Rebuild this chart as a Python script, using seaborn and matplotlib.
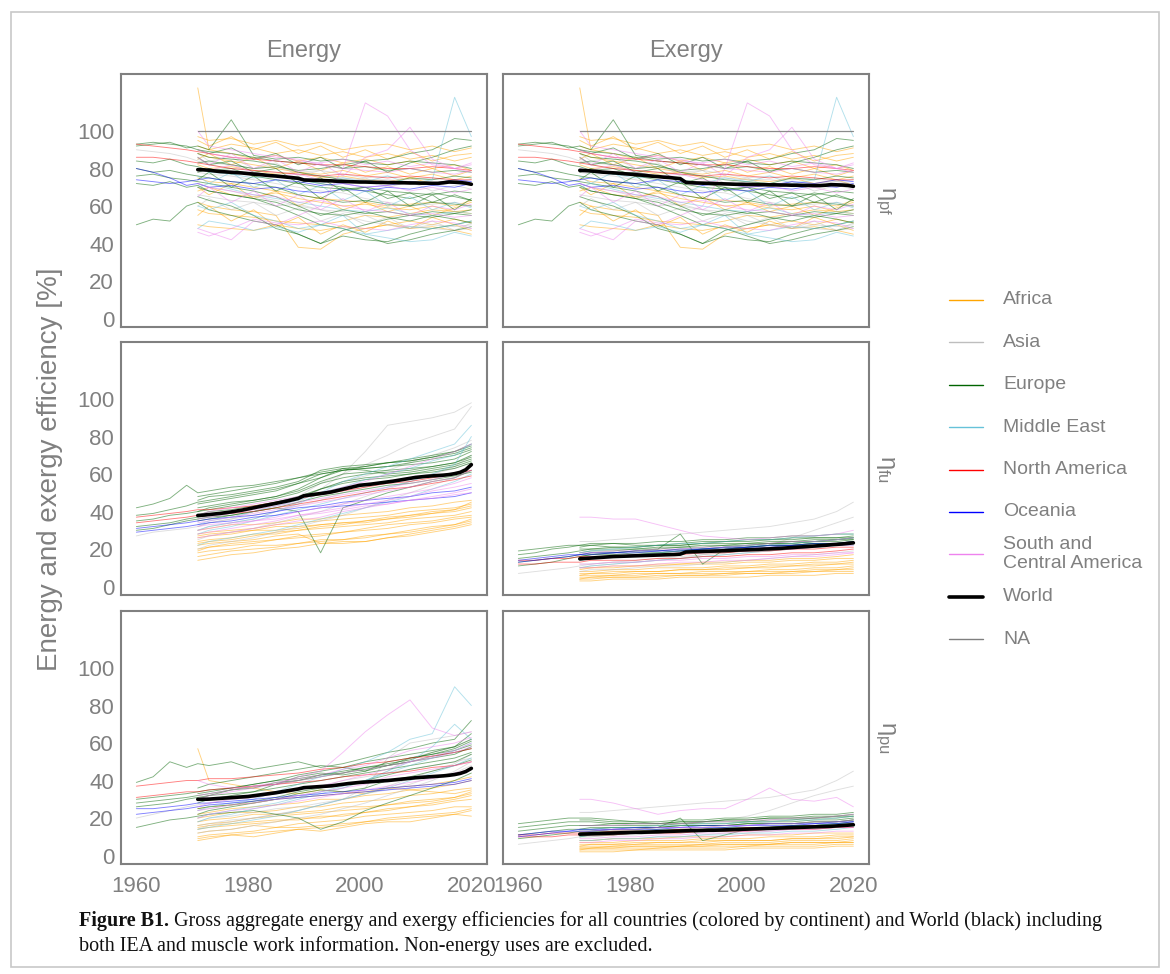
import matplotlib
matplotlib.use("Agg")
import matplotlib.pyplot as plt
from matplotlib.lines import Line2D
from matplotlib.patches import Rectangle
import pandas as pd
import seaborn as sns

# ---------------------------------------------------------------- years
YEARS_EARLY = [1960, 1963, 1966, 1969]
YEARS_MAIN = [1971, 1973, 1977, 1981, 1985, 1989, 1993, 1997, 2001, 2005, 2009, 2013, 2017, 2020]
YEARS_LONG = YEARS_EARLY + YEARS_MAIN
YEARS_WORLD = list(range(1971, 2021))

CONTINENTS = ["Africa", "Asia", "Europe", "Middle East", "North America",
              "Oceania", "South and\nCentral America", "World", "NA"]

# ------------------------------------------- primary-to-final (both columns)
PF_AFRICA = [
    [123, 90, 88, 85, 87, 84, 86, 83, 85, 82, 84, 80, 82, 79],
    [97, 95, 96, 93, 95, 92, 94, 90, 92, 93, 90, 92, 89, 91],
    [88, 86, 84, 82, 80, 78, 77, 79, 76, 78, 75, 77, 74, 76],
    [75, 73, 72, 70, 68, 66, 64, 63, 62, 60, 61, 62, 60, 63],
    [62, 60, 58, 57, 55, 38, 37, 45, 48, 50, 52, 50, 53, 51],
    [50, 49, 48, 47, 50, 48, 47, 49, 48, 50, 48, 49, 47, 45],
    [68, 70, 66, 65, 67, 64, 62, 60, 61, 59, 58, 60, 57, 58],
    [82, 80, 81, 79, 77, 78, 75, 76, 74, 73, 75, 72, 74, 71],
    [58, 56, 55, 54, 52, 51, 50, 52, 55, 54, 56, 58, 57, 56],
    [92, 90, 93, 91, 88, 90, 87, 89, 86, 88, 85, 87, 84, 86],
    [85, 88, 82, 86, 80, 84, 79, 83, 78, 81, 77, 80, 76, 79],
    [70, 66, 72, 64, 68, 60, 65, 58, 62, 57, 60, 55, 59, 62],
    [55, 60, 52, 58, 49, 54, 45, 50, 46, 52, 48, 54, 50, 47],
    [95, 92, 97, 90, 94, 88, 92, 86, 90, 85, 89, 84, 87, 88],
]
PF_ASIA = [
    [90, 89, 88, 86, 84, 82, 80, 79, 78, 77, 76, 75, 74, 74, 73, 72, 73, 72],
    [72, 70, 68, 65, 63, 60, 58, 55, 52, 50, 49, 48, 47, 48],
    [85, 83, 82, 80, 81, 78, 79, 77, 75, 76, 74, 75, 73, 74],
    [66, 65, 63, 62, 60, 61, 58, 57, 55, 50, 48, 50, 49, 50],
    [78, 77, 76, 74, 72, 70, 68, 67, 64, 62, 60, 61, 62, 60],
    [88, 84, 86, 80, 83, 76, 79, 72, 75, 70, 73, 68, 71, 69],
    [60, 64, 58, 62, 55, 59, 52, 56, 50, 54, 48, 52, 47, 51],
]
PF_EUROPE = [
    [93, 94, 93, 92, 90, 89, 88, 86, 84, 83, 82, 80, 81, 79, 80, 78, 79, 78],
    [92, 93, 94, 91, 92, 90, 106, 87, 85, 86, 84, 85, 83, 82, 84, 83, 82, 80],
    [84, 83, 85, 82, 81, 79, 80, 76, 74, 72, 70, 69, 70, 68, 67, 66, 68, 67],
    [80, 78, 79, 77, 76, 75, 73, 72, 70, 66, 64, 62, 63, 61, 60, 62, 61, 60],
    [76, 77, 75, 74, 73, 72, 70, 68, 65, 60, 55, 58, 56, 57, 55, 54, 56, 55],
    [50, 53, 52, 60, 62, 58, 55, 52, 50, 45, 40, 44, 42, 41, 45, 48, 50, 52],
    [72, 71, 73, 70, 71, 68, 66, 64, 62, 58, 56, 55, 57, 54, 52, 55, 53, 51],
    [88, 86, 85, 84, 82, 78, 76, 74, 73, 72, 75, 74, 76, 75],
    [65, 63, 60, 55, 48, 45, 40, 47, 50, 53, 55, 57, 56, 58],
    [78, 80, 77, 78, 76, 74, 72, 70, 68, 66, 64, 67, 65, 63],
    [83, 84, 82, 80, 81, 79, 80, 82, 84, 85, 88, 90, 96, 95],
    [70, 68, 66, 64, 60, 55, 50, 48, 44, 40, 42, 45, 47, 49],
    [86, 82, 84, 78, 80, 72, 75, 68, 70, 64, 67, 62, 66, 63],
    [74, 78, 70, 76, 68, 73, 64, 70, 62, 68, 60, 66, 58, 64],
    [90, 88, 91, 85, 88, 82, 86, 80, 84, 78, 83, 86, 90, 92],
]
PF_MIDDLE_EAST = [
    [60, 58, 62, 55, 52, 48, 50, 55, 45, 43, 41, 42, 46, 44],
    [80, 78, 77, 75, 76, 74, 72, 75, 73, 76, 72, 74, 118, 97],
    [70, 72, 69, 66, 64, 62, 60, 58, 57, 59, 56, 55, 57, 56],
    [48, 52, 50, 47, 49, 46, 50, 48, 45, 47, 49, 48, 50, 52],
    [76, 72, 78, 70, 74, 66, 71, 63, 68, 60, 65, 58, 62, 59],
]
PF_NORTH_AMERICA = [
    [93, 92, 91, 90, 89, 88, 86, 85, 84, 83, 82, 82, 81, 80, 80, 81, 80, 79],
    [86, 86, 85, 84, 83, 82, 80, 79, 78, 77, 76, 77, 76, 75, 76, 75, 74, 74],
]
PF_OCEANIA = [
    [80, 78, 75, 71, 72, 70, 71, 69, 70, 68, 67, 69, 68, 70, 69, 71, 70, 72],
    [74, 73, 72, 73, 74, 75, 73, 72, 74, 73, 71, 72, 70, 71, 73, 72, 74, 73],
]
PF_SC_AMERICA = [
    [48, 46, 42, 52, 50, 55, 60, 80, 115, 108, 90, 82, 80, 78],
    [90, 88, 86, 85, 87, 84, 83, 85, 82, 84, 81, 83, 80, 82],
    [100, 92, 90, 88, 86, 85, 82, 80, 79, 78, 80, 78, 77, 79],
    [72, 70, 68, 66, 65, 62, 63, 60, 58, 57, 55, 56, 54, 55],
    [80, 79, 82, 78, 76, 77, 74, 72, 70, 71, 68, 70, 67, 69],
    [46, 44, 48, 53, 51, 50, 52, 49, 48, 47, 50, 52, 51, 48],
    [86, 82, 88, 80, 85, 78, 83, 76, 86, 90, 102, 85, 80, 83],
    [65, 70, 62, 68, 60, 66, 58, 64, 57, 62, 55, 60, 58, 61],
]
PF_NA = [
    [100, 100, 100, 100, 100, 100, 100, 100, 100, 100, 100, 100, 100, 100],
]

# ------------------------------------------------ final-to-useful, energy
FU_EN_AFRICA = [
    [14, 15, 17, 18, 20, 21, 23, 24, 24, 26, 28, 30, 32, 34],
    [20, 21, 23, 24, 25, 27, 28, 29, 31, 33, 34, 35, 37, 38],
    [24, 25, 26, 28, 28, 30, 31, 32, 33, 34, 36, 37, 38, 40],
    [27, 28, 29, 30, 32, 32, 33, 34, 34, 36, 37, 39, 40, 42],
    [18, 19, 20, 22, 22, 23, 25, 25, 27, 28, 30, 32, 33, 35],
    [30, 31, 33, 33, 34, 36, 36, 38, 39, 40, 42, 43, 45, 46],
    [22, 23, 24, 25, 27, 28, 23, 23, 24, 26, 27, 29, 31, 33],
    [26, 27, 28, 30, 30, 31, 33, 34, 35, 37, 38, 39, 41, 43],
    [16, 17, 19, 20, 21, 23, 24, 25, 26, 28, 29, 31, 33, 36],
    [28, 29, 30, 31, 33, 34, 35, 36, 37, 38, 40, 41, 42, 44],
    [19, 21, 22, 23, 25, 26, 27, 29, 30, 31, 33, 34, 36, 37],
    [23, 24, 25, 27, 29, 30, 32, 33, 35, 36, 38, 40, 41, 45],
]
FU_EN_ASIA = [
    [27, 29, 30, 31, 32, 34, 36, 38, 40, 43, 46, 50, 53, 56, 58, 60, 63, 66],
    [32, 34, 36, 40, 44, 48, 55, 60, 72, 86, 88, 90, 93, 98],
    [30, 32, 34, 36, 40, 45, 52, 60, 65, 70, 76, 80, 84, 96],
    [20, 22, 24, 26, 29, 32, 35, 38, 42, 46, 50, 54, 58, 62],
    [36, 38, 40, 42, 45, 48, 52, 56, 59, 62, 66, 70, 74, 78],
    [25, 27, 29, 31, 34, 37, 40, 44, 48, 52, 56, 60, 64, 70],
]
FU_EN_EUROPE = [
    [42, 44, 47, 54, 50, 51, 53, 54, 56, 58, 60, 62, 64, 66, 67, 69, 71, 74],
    [38, 39, 41, 43, 45, 46, 48, 50, 52, 55, 58, 62, 63, 64, 65, 66, 68, 72],
    [35, 36, 38, 39, 40, 42, 44, 46, 48, 51, 56, 60, 61, 62, 63, 64, 66, 70],
    [32, 33, 34, 36, 37, 38, 40, 42, 44, 47, 52, 56, 58, 59, 60, 62, 64, 67],
    [30, 31, 33, 35, 36, 37, 38, 40, 42, 40, 18, 42, 46, 50, 53, 56, 58, 62],
    [44, 45, 47, 49, 51, 55, 60, 62, 63, 64, 66, 68, 70, 73],
    [40, 41, 43, 45, 47, 50, 55, 58, 60, 61, 62, 64, 66, 69],
    [38, 40, 41, 43, 45, 48, 52, 55, 57, 58, 60, 61, 63, 66],
    [35, 36, 38, 40, 42, 45, 48, 50, 52, 54, 55, 57, 59, 61],
    [42, 43, 45, 46, 48, 52, 58, 63, 62, 60, 61, 63, 65, 68],
    [46, 48, 49, 51, 53, 56, 62, 64, 65, 66, 67, 69, 72, 75],
    [48, 49, 51, 53, 55, 58, 61, 63, 64, 66, 68, 70, 72, 76],
]
FU_EN_MIDDLE_EAST = [
    [30, 32, 34, 36, 40, 44, 50, 56, 60, 64, 68, 72, 76, 86],
    [28, 30, 32, 35, 38, 41, 44, 47, 50, 53, 56, 60, 65, 80],
    [22, 24, 26, 28, 30, 33, 36, 39, 42, 45, 48, 52, 56, 60],
    [33, 35, 37, 40, 43, 46, 50, 53, 57, 60, 63, 67, 70, 76],
]
FU_EN_NORTH_AMERICA = [
    [37, 38, 39, 40, 41, 41, 42, 43, 45, 47, 49, 51, 53, 55, 56, 58, 60, 62],
    [34, 35, 36, 37, 38, 38, 39, 40, 42, 44, 46, 48, 50, 52, 53, 55, 57, 59],
]
FU_EN_OCEANIA = [
    [31, 32, 33, 34, 35, 36, 37, 38, 40, 42, 43, 45, 46, 47, 48, 50, 51, 53],
    [29, 30, 31, 32, 33, 34, 35, 37, 38, 40, 42, 43, 44, 45, 46, 47, 48, 50],
]
FU_EN_SC_AMERICA = [
    [30, 31, 33, 35, 37, 40, 42, 44, 46, 48, 50, 52, 55, 58],
    [34, 35, 37, 39, 41, 43, 45, 47, 49, 51, 53, 56, 58, 62],
    [26, 27, 29, 31, 33, 35, 37, 40, 42, 44, 46, 48, 50, 52],
    [38, 40, 42, 44, 46, 48, 50, 53, 56, 60, 64, 68, 72, 76],
    [32, 33, 34, 35, 36, 38, 39, 41, 43, 44, 46, 47, 49, 50],
    [36, 37, 39, 41, 43, 45, 47, 49, 51, 53, 55, 57, 60, 64],
    [28, 29, 31, 33, 35, 38, 40, 42, 44, 46, 48, 51, 53, 55],
]

# ---------------------------------------------- primary-to-useful, energy
PU_EN_AFRICA = [
    [57, 40, 38, 36, 34, 33, 35, 34, 33, 36, 35, 34, 33, 35],
    [8, 9, 11, 10, 12, 14, 13, 15, 17, 18, 18, 20, 22, 21],
    [12, 13, 14, 16, 15, 17, 18, 19, 21, 22, 23, 24, 26, 26],
    [15, 16, 17, 18, 19, 19, 21, 21, 23, 24, 26, 27, 29, 30],
    [18, 19, 20, 22, 22, 23, 24, 26, 26, 27, 29, 30, 31, 33],
    [20, 21, 23, 23, 24, 26, 26, 28, 29, 30, 32, 33, 35, 36],
    [10, 11, 12, 13, 15, 15, 16, 17, 18, 20, 21, 22, 23, 25],
    [22, 23, 25, 26, 27, 28, 30, 30, 32, 33, 35, 36, 38, 40],
    [14, 15, 16, 17, 18, 20, 20, 22, 23, 25, 26, 28, 30, 32],
    [25, 26, 27, 28, 30, 31, 32, 33, 34, 36, 37, 38, 40, 42],
    [9, 10, 11, 12, 13, 14, 15, 16, 18, 19, 20, 21, 22, 24],
    [16, 17, 18, 20, 21, 22, 23, 24, 25, 27, 28, 29, 31, 34],
]
PU_EN_ASIA = [
    [20, 22, 24, 26, 27, 28, 30, 31, 33, 35, 37, 40, 42, 44, 46, 48, 50, 52],
    [16, 17, 19, 20, 22, 24, 27, 30, 36, 52, 60, 62, 64, 66],
    [12, 13, 14, 16, 18, 20, 22, 25, 28, 32, 36, 40, 45, 50],
    [24, 25, 27, 28, 30, 32, 34, 36, 40, 45, 52, 55, 58, 62],
    [18, 20, 21, 23, 25, 26, 28, 30, 33, 35, 38, 42, 44, 48],
    [14, 16, 18, 20, 22, 24, 27, 30, 33, 37, 41, 45, 49, 54],
]
PU_EN_EUROPE = [
    [39, 42, 50, 47, 49, 48, 50, 46, 48, 50, 47, 49, 52, 55, 57, 60, 62, 72],
    [30, 31, 32, 33, 34, 35, 36, 38, 40, 43, 45, 47, 50, 52, 54, 56, 58, 62],
    [28, 29, 30, 31, 32, 33, 35, 37, 38, 40, 42, 44, 46, 48, 50, 52, 54, 58],
    [26, 27, 28, 30, 31, 32, 33, 34, 36, 38, 40, 42, 44, 46, 48, 50, 52, 55],
    [15, 17, 19, 20, 21, 22, 23, 24, 22, 20, 14, 18, 24, 28, 32, 36, 40, 44],
    [36, 38, 40, 42, 44, 46, 48, 47, 45, 50, 52, 54, 56, 59],
    [28, 30, 32, 34, 38, 42, 44, 43, 45, 48, 50, 53, 55, 57],
    [22, 24, 26, 28, 30, 33, 35, 34, 36, 40, 42, 45, 48, 51],
    [33, 34, 36, 38, 40, 41, 43, 45, 47, 49, 51, 55, 58, 65],
    [25, 26, 27, 29, 31, 34, 36, 38, 40, 43, 46, 48, 50, 54],
    [30, 32, 35, 36, 39, 40, 43, 44, 47, 48, 52, 54, 57, 61],
]
PU_EN_MIDDLE_EAST = [
    [24, 26, 28, 30, 34, 38, 42, 46, 50, 55, 62, 65, 90, 80],
    [20, 22, 24, 26, 28, 31, 34, 37, 40, 45, 50, 58, 70, 62],
    [14, 15, 17, 19, 21, 24, 27, 30, 33, 36, 40, 44, 48, 52],
    [18, 20, 22, 25, 27, 30, 33, 36, 40, 44, 48, 52, 56, 60],
]
PU_EN_NORTH_AMERICA = [
    [37, 38, 39, 40, 40, 41, 41, 42, 43, 44, 46, 47, 49, 50, 52, 53, 55, 57],
    [31, 32, 33, 34, 34, 35, 36, 37, 38, 39, 40, 42, 43, 44, 45, 47, 48, 50],
]
PU_EN_OCEANIA = [
    [22, 23, 24, 25, 26, 27, 28, 29, 30, 31, 32, 33, 34, 35, 36, 37, 38, 40],
    [25, 25, 26, 27, 28, 28, 29, 30, 31, 32, 33, 34, 35, 36, 37, 38, 39, 41],
]
PU_EN_SC_AMERICA = [
    [30, 32, 34, 36, 38, 42, 45, 55, 66, 75, 83, 68, 64, 66],
    [26, 28, 30, 31, 33, 35, 37, 40, 43, 46, 50, 52, 55, 58],
    [40, 38, 36, 37, 38, 40, 42, 44, 46, 48, 50, 53, 56, 60],
    [20, 22, 24, 25, 27, 29, 31, 33, 35, 37, 39, 41, 44, 46],
    [24, 25, 27, 28, 30, 32, 34, 36, 38, 42, 44, 46, 48, 50],
    [32, 33, 35, 37, 39, 41, 43, 46, 48, 52, 56, 58, 60, 63],
]

# ------------------------------------------------ final-to-useful, exergy
FU_EX_AFRICA = [
    [3, 3, 4, 4, 4, 5, 5, 5, 5, 6, 6, 6, 7, 7],
    [4, 4, 5, 5, 5, 6, 6, 6, 7, 7, 7, 8, 8, 8],
    [5, 5, 6, 6, 7, 7, 7, 7, 8, 8, 8, 9, 9, 10],
    [6, 6, 6, 7, 7, 7, 8, 8, 8, 9, 9, 10, 10, 11],
    [7, 7, 8, 8, 8, 9, 9, 9, 10, 10, 11, 11, 12, 12],
    [8, 8, 9, 9, 10, 10, 10, 11, 11, 12, 12, 13, 13, 14],
    [9, 10, 10, 11, 11, 12, 12, 12, 13, 13, 14, 14, 15, 15],
    [4, 5, 5, 5, 6, 6, 6, 7, 7, 7, 8, 8, 9, 9],
    [10, 10, 11, 11, 12, 12, 13, 13, 14, 14, 15, 15, 16, 17],
    [6, 7, 7, 8, 8, 9, 9, 10, 10, 11, 11, 12, 12, 13],
]
FU_EX_ASIA = [
    [7, 8, 9, 10, 11, 12, 13, 14, 15, 16, 17, 18, 19, 20, 21, 22, 23, 24],
    [24, 24, 25, 26, 27, 28, 29, 30, 31, 32, 34, 36, 40, 45],
    [10, 11, 12, 13, 14, 15, 17, 18, 20, 22, 26, 30, 34, 37],
    [12, 12, 13, 13, 14, 15, 16, 17, 18, 19, 20, 21, 22, 23],
    [8, 9, 9, 10, 11, 11, 12, 13, 14, 15, 16, 17, 18, 19],
]
FU_EX_EUROPE = [
    [19, 20, 21, 22, 22, 23, 23, 22, 22, 23, 24, 24, 25, 25, 26, 26, 26, 27],
    [17, 18, 20, 21, 22, 22, 21, 21, 22, 22, 23, 24, 24, 25, 25, 26, 26, 26],
    [15, 16, 17, 18, 19, 20, 20, 20, 21, 21, 22, 22, 23, 23, 24, 24, 25, 25],
    [13, 14, 15, 16, 17, 18, 18, 19, 19, 20, 20, 21, 21, 22, 22, 23, 23, 24],
    [11, 12, 13, 15, 16, 17, 18, 19, 20, 28, 12, 20, 21, 22, 22, 23, 23, 24],
    [21, 22, 23, 23, 24, 24, 25, 25, 26, 26, 27, 27, 28, 28],
    [20, 20, 21, 21, 22, 22, 23, 23, 23, 24, 24, 25, 25, 26],
    [18, 19, 19, 20, 20, 21, 21, 22, 22, 23, 23, 24, 24, 25],
    [16, 17, 17, 18, 18, 19, 20, 20, 21, 22, 22, 23, 23, 24],
    [14, 15, 16, 17, 18, 19, 20, 21, 22, 23, 23, 24, 25, 26],
]
FU_EX_MIDDLE_EAST = [
    [18, 19, 20, 21, 22, 23, 23, 24, 25, 25, 26, 27, 28, 28],
    [14, 15, 16, 17, 18, 19, 20, 21, 22, 22, 23, 24, 25, 26],
    [10, 11, 12, 13, 14, 15, 16, 17, 18, 19, 20, 21, 22, 22],
]
FU_EX_NORTH_AMERICA = [
    [14, 14, 15, 15, 16, 16, 16, 17, 17, 17, 18, 18, 19, 19, 20, 20, 21, 21],
    [12, 12, 13, 13, 13, 14, 14, 14, 15, 15, 16, 16, 17, 17, 18, 18, 19, 20],
]
FU_EX_OCEANIA = [
    [13, 14, 15, 16, 17, 17, 18, 18, 19, 19, 20, 20, 21, 21, 22, 22, 23, 23],
    [14, 15, 16, 17, 17, 18, 18, 19, 19, 20, 20, 21, 21, 22, 22, 23, 23, 24],
]
FU_EX_SC_AMERICA = [
    [37, 37, 36, 36, 33, 30, 27, 26, 25, 26, 27, 27, 28, 30],
    [15, 16, 16, 17, 17, 18, 18, 19, 19, 20, 20, 21, 22, 22],
    [12, 12, 13, 13, 14, 14, 15, 15, 16, 16, 17, 17, 18, 18],
    [10, 10, 11, 11, 12, 13, 13, 14, 14, 15, 16, 16, 17, 18],
    [18, 18, 19, 19, 20, 20, 21, 21, 22, 23, 24, 24, 25, 26],
]

# ---------------------------------------------- primary-to-useful, exergy
PU_EX_AFRICA = [
    [2, 2, 2, 3, 3, 3, 3, 3, 4, 4, 4, 4, 5, 5],
    [3, 3, 3, 3, 4, 4, 4, 4, 5, 5, 5, 5, 6, 6],
    [3, 4, 4, 4, 4, 5, 5, 5, 5, 6, 6, 6, 7, 7],
    [4, 4, 5, 5, 5, 5, 6, 6, 6, 6, 7, 7, 7, 8],
    [5, 5, 5, 6, 6, 6, 6, 7, 7, 7, 8, 8, 8, 9],
    [6, 6, 6, 7, 7, 7, 8, 8, 8, 8, 9, 9, 10, 10],
    [7, 7, 7, 8, 8, 8, 9, 9, 9, 10, 10, 10, 11, 11],
    [8, 8, 9, 9, 9, 10, 10, 10, 11, 11, 11, 12, 12, 12],
    [4, 4, 4, 5, 5, 5, 5, 6, 6, 6, 7, 7, 7, 7],
    [5, 6, 6, 6, 7, 7, 7, 8, 8, 8, 9, 9, 9, 10],
]
PU_EX_ASIA = [
    [6, 7, 8, 9, 10, 10, 11, 12, 13, 14, 15, 16, 17, 18, 19, 20, 21, 22],
    [23, 23, 24, 25, 26, 27, 28, 29, 30, 31, 33, 35, 40, 45],
    [12, 12, 13, 14, 15, 16, 18, 19, 21, 24, 28, 32, 35, 37],
    [8, 8, 9, 9, 10, 10, 11, 12, 12, 13, 14, 15, 16, 17],
    [10, 10, 11, 11, 12, 12, 13, 13, 14, 15, 16, 17, 18, 19],
]
PU_EX_EUROPE = [
    [17, 18, 19, 20, 20, 20, 19, 18, 18, 19, 19, 20, 20, 21, 21, 22, 22, 23],
    [15, 16, 17, 18, 18, 18, 17, 17, 17, 18, 18, 19, 19, 20, 20, 20, 21, 21],
    [13, 14, 15, 16, 16, 16, 16, 16, 16, 17, 17, 17, 18, 18, 18, 19, 19, 20],
    [11, 12, 13, 14, 14, 15, 15, 15, 15, 16, 16, 16, 17, 17, 17, 18, 18, 19],
    [9, 10, 11, 12, 13, 13, 14, 14, 15, 20, 8, 11, 14, 15, 16, 16, 17, 18],
    [19, 19, 18, 18, 17, 18, 18, 19, 19, 20, 20, 21, 21, 22],
    [14, 14, 15, 15, 15, 16, 16, 16, 17, 17, 17, 18, 18, 19],
    [12, 13, 13, 13, 14, 14, 14, 15, 15, 15, 16, 16, 17, 17],
    [10, 11, 11, 12, 12, 13, 13, 13, 14, 14, 15, 15, 16, 17],
    [16, 16, 17, 17, 17, 17, 18, 18, 18, 19, 19, 20, 20, 21],
]
PU_EX_MIDDLE_EAST = [
    [14, 14, 15, 15, 16, 16, 17, 17, 18, 18, 19, 19, 20, 21],
    [10, 11, 11, 12, 12, 13, 13, 14, 14, 15, 15, 16, 17, 17],
    [8, 8, 9, 9, 10, 10, 11, 11, 12, 12, 13, 13, 14, 15],
]
PU_EX_NORTH_AMERICA = [
    [11, 11, 12, 12, 12, 12, 13, 13, 13, 14, 14, 14, 15, 15, 15, 16, 16, 17],
    [10, 10, 10, 11, 11, 11, 11, 12, 12, 12, 13, 13, 13, 14, 14, 14, 15, 15],
]
PU_EX_OCEANIA = [
    [10, 11, 12, 13, 13, 13, 14, 14, 14, 15, 15, 15, 16, 16, 16, 17, 17, 18],
    [11, 12, 13, 13, 14, 14, 14, 15, 15, 15, 16, 16, 16, 17, 17, 17, 18, 18],
]
PU_EX_SC_AMERICA = [
    [30, 30, 28, 25, 22, 24, 25, 25, 30, 36, 30, 29, 31, 26],
    [13, 13, 14, 14, 15, 15, 15, 16, 16, 17, 17, 18, 18, 19],
    [9, 9, 10, 10, 11, 11, 12, 12, 13, 13, 14, 14, 15, 15],
    [7, 7, 8, 8, 9, 9, 10, 10, 11, 11, 12, 12, 13, 13],
    [16, 16, 16, 17, 17, 17, 18, 18, 19, 19, 20, 20, 21, 22],
]

# ------------------------------------------------ world aggregates 1971-2020
WORLD_PF_ENERGY = [
    79.4, 79.3, 79.1, 78.7, 78.4, 78.2, 78.0, 77.8, 77.6, 77.3,
    77.0, 76.8, 76.5, 76.2, 76.0, 75.7, 75.4, 75.1, 74.8, 73.9,
    73.8, 73.7, 73.6, 73.5, 73.4, 73.2, 73.1, 73.0, 72.9, 72.8,
    72.8, 72.7, 72.6, 72.6, 72.5, 72.5, 72.4, 72.4, 72.3, 72.3,
    72.2, 72.2, 72.1, 72.1, 72.4, 72.8, 72.7, 72.5, 72.2, 71.6,
]
WORLD_PF_EXERGY = [
    79.0, 78.9, 78.7, 78.4, 78.1, 77.9, 77.7, 77.5, 77.2, 77.0,
    76.7, 76.5, 76.2, 75.9, 75.7, 75.4, 75.2, 74.9, 74.6, 72.6,
    72.4, 72.3, 72.2, 72.1, 72.0, 71.9, 71.8, 71.7, 71.6, 71.6,
    71.5, 71.5, 71.4, 71.4, 71.3, 71.3, 71.2, 71.2, 71.1, 71.1,
    71.0, 71.0, 70.9, 70.9, 71.1, 71.4, 71.3, 71.2, 71.0, 70.5,
]
WORLD_FU_ENERGY = [
    37.9, 38.1, 38.4, 38.7, 39.0, 39.4, 39.8, 40.3, 40.8, 41.4,
    42.0, 42.6, 43.2, 43.8, 44.4, 45.0, 45.6, 46.3, 47.0, 48.4,
    48.8, 49.2, 49.6, 50.0, 50.5, 51.2, 51.9, 52.6, 53.3, 54.0,
    54.3, 54.6, 55.0, 55.4, 55.8, 56.2, 56.7, 57.2, 57.7, 58.2,
    58.5, 58.8, 59.0, 59.2, 59.4, 59.7, 60.2, 60.9, 62.3, 65.0,
]
WORLD_FU_EXERGY = [
    14.8, 15.0, 15.2, 15.4, 15.6, 15.8, 16.0, 16.1, 16.2, 16.3,
    16.4, 16.5, 16.6, 16.7, 16.8, 16.9, 17.0, 17.1, 17.3, 18.4,
    18.5, 18.6, 18.7, 18.8, 18.9, 19.0, 19.1, 19.2, 19.4, 19.5,
    19.6, 19.7, 19.8, 20.0, 20.1, 20.3, 20.4, 20.6, 20.8, 21.0,
    21.2, 21.4, 21.6, 21.8, 22.0, 22.3, 22.5, 22.7, 23.0, 23.3,
]
WORLD_PU_ENERGY = [
    30.0, 30.0, 30.1, 30.3, 30.5, 30.7, 30.9, 31.1, 31.3, 31.5,
    31.9, 32.3, 32.7, 33.1, 33.5, 34.0, 34.5, 35.0, 35.5, 36.2,
    36.4, 36.6, 36.8, 37.0, 37.2, 37.6, 38.0, 38.4, 38.7, 39.0,
    39.2, 39.4, 39.6, 39.8, 40.0, 40.3, 40.6, 40.9, 41.2, 41.5,
    41.7, 41.9, 42.1, 42.3, 42.5, 42.8, 43.2, 43.8, 44.8, 46.5,
]
WORLD_PU_EXERGY = [
    11.4, 11.5, 11.6, 11.7, 11.8, 11.9, 12.0, 12.1, 12.2, 12.3,
    12.4, 12.4, 12.5, 12.6, 12.7, 12.8, 12.9, 13.0, 13.1, 13.2,
    13.3, 13.3, 13.4, 13.5, 13.5, 13.6, 13.7, 13.8, 13.9, 14.0,
    14.1, 14.2, 14.3, 14.4, 14.5, 14.6, 14.7, 14.8, 14.9, 15.0,
    15.1, 15.2, 15.3, 15.4, 15.5, 15.6, 15.8, 16.0, 16.2, 16.4,
]

COLUMN_TITLES = ["Energy", "Exergy"]
ROW_TITLES = [r"$\eta_{\mathrm{pf}}$", r"$\eta_{\mathrm{fu}}$", r"$\eta_{\mathrm{pu}}$"]
Y_TICKS = [0, 20, 40, 60, 80, 100]
X_TICKS = [1960, 1980, 2000, 2020]
CAPTION_LEAD = "Figure B1."
CAPTION_LINE_1 = (" Gross aggregate energy and exergy efficiencies for all countries "
                  "(colored by continent) and World (black) including")
CAPTION_LINE_2 = "both IEA and muscle work information. Non-energy uses are excluded."

PALETTE = {
    "Africa": "#ffa500",
    "Asia": "#bebebe",
    "Europe": "#006400",
    "Middle East": "#66c2d9",
    "North America": "#ff0000",
    "Oceania": "#0000ff",
    "South and\nCentral America": "#ee82ee",
    "World": "#000000",
    "NA": "#7f7f7f",
}
GRAY = "#808080"


def group(af, asia, eu, me, nam, oc, sca, na=None):
    g = {"Africa": af, "Asia": asia, "Europe": eu, "Middle East": me,
         "North America": nam, "Oceania": oc, "South and\nCentral America": sca}
    if na is not None:
        g["NA"] = na
    return g


def to_frame(groups):
    rows = []
    for continent, series in groups.items():
        for k, vals in enumerate(series):
            years = YEARS_LONG if len(vals) == len(YEARS_LONG) else YEARS_MAIN
            assert len(vals) == len(years)
            for yr, v in zip(years, vals):
                rows.append((continent, f"{continent}-{k}", yr, v))
    return pd.DataFrame(rows, columns=["continent", "country", "year", "value"])


PF = to_frame(group(PF_AFRICA, PF_ASIA, PF_EUROPE, PF_MIDDLE_EAST,
                    PF_NORTH_AMERICA, PF_OCEANIA, PF_SC_AMERICA, PF_NA))
FU_EN = to_frame(group(FU_EN_AFRICA, FU_EN_ASIA, FU_EN_EUROPE, FU_EN_MIDDLE_EAST,
                       FU_EN_NORTH_AMERICA, FU_EN_OCEANIA, FU_EN_SC_AMERICA))
PU_EN = to_frame(group(PU_EN_AFRICA, PU_EN_ASIA, PU_EN_EUROPE, PU_EN_MIDDLE_EAST,
                       PU_EN_NORTH_AMERICA, PU_EN_OCEANIA, PU_EN_SC_AMERICA))
FU_EX = to_frame(group(FU_EX_AFRICA, FU_EX_ASIA, FU_EX_EUROPE, FU_EX_MIDDLE_EAST,
                       FU_EX_NORTH_AMERICA, FU_EX_OCEANIA, FU_EX_SC_AMERICA))
PU_EX = to_frame(group(PU_EX_AFRICA, PU_EX_ASIA, PU_EX_EUROPE, PU_EX_MIDDLE_EAST,
                       PU_EX_NORTH_AMERICA, PU_EX_OCEANIA, PU_EX_SC_AMERICA))

PANELS = [
    [(PF, WORLD_PF_ENERGY), (PF, WORLD_PF_EXERGY)],
    [(FU_EN, WORLD_FU_ENERGY), (FU_EX, WORLD_FU_EXERGY)],
    [(PU_EN, WORLD_PU_ENERGY), (PU_EX, WORLD_PU_EXERGY)],
]

# ------------------------------------------------------------------ style
sns.set_theme(style="white")
plt.rcParams["font.family"] = ["Liberation Sans", "DejaVu Sans"]
plt.rcParams["mathtext.fontset"] = "custom"
plt.rcParams["mathtext.rm"] = "Liberation Sans"
plt.rcParams["mathtext.it"] = "Liberation Sans"

W, H = 1170, 974
fig = plt.figure(figsize=(W / 100, H / 100), dpi=100)
fig.patch.set_facecolor("white")

COL_X = [121, 503]
ROW_Y = [74, 342, 611]
PW, PH = 366, 253


def fx(px):
    return px / W


def fy(py):
    return 1 - py / H


for r in range(3):
    for c in range(2):
        ax = fig.add_axes([fx(COL_X[c]), fy(ROW_Y[r] + PH), PW / W, PH / H])
        df, world = PANELS[r][c]
        countries = df[df["continent"] != "NA"]
        unknown = df[df["continent"] == "NA"]
        sns.lineplot(data=countries, x="year", y="value", hue="continent",
                     units="country", estimator=None, palette=PALETTE,
                     linewidth=0.65, alpha=0.5, legend=False, ax=ax)
        if len(unknown):
            sns.lineplot(data=unknown, x="year", y="value", units="country",
                         estimator=None, color=PALETTE["NA"], linewidth=0.9,
                         alpha=0.9, legend=False, ax=ax)
        sns.lineplot(x=YEARS_WORLD, y=world, color="black", linewidth=2.6, ax=ax)
        ax.set_xlim(1957.25, 2022.8)
        ax.set_ylim(-4.5, 130.4)
        ax.set_xlabel("")
        ax.set_ylabel("")
        ax.set_xticks(X_TICKS)
        ax.set_yticks(Y_TICKS)
        ax.tick_params(direction="in", length=6, width=1.2, color=GRAY,
                       labelcolor=GRAY, labelsize=16, pad=5)
        ax.tick_params(axis="x", pad=9)
        if c == 1:
            ax.tick_params(axis="y", left=False, labelleft=False)
        if r < 2:
            ax.tick_params(axis="x", bottom=False, labelbottom=False)
        for sp in ax.spines.values():
            sp.set_color(GRAY)
            sp.set_linewidth(1.5)

# column and row strip labels
for c, title in enumerate(COLUMN_TITLES):
    fig.text(fx(COL_X[c] + PW / 2), fy(51), title, ha="center", va="center",
             fontsize=17, color=GRAY)
for r, title in enumerate(ROW_TITLES):
    fig.text(fx(885), fy(ROW_Y[r] + PH / 2), title, ha="center", va="center",
             rotation=270, fontsize=17, color=GRAY)

fig.text(fx(50), fy((ROW_Y[0] + ROW_Y[2] + PH) / 2), "Energy and exergy efficiency [%]",
         rotation=90, ha="center", va="center", fontsize=20, color=GRAY)

# legend
for i, name in enumerate(CONTINENTS):
    y = 300 + 42.4 * i
    lw = 2.6 if name == "World" else 1.0
    fig.add_artist(Line2D([fx(949), fx(983)], [fy(y), fy(y)],
                          color=PALETTE[name], linewidth=lw))
    fig.text(fx(1003), fy(y), name, ha="left", va="center", fontsize=14,
             color=GRAY, linespacing=1.15)

# caption
cap_font = dict(family="Liberation Serif", fontsize=14.5, color="#111111", va="baseline")
lead = fig.text(fx(79), fy(926), CAPTION_LEAD, fontweight="bold", **cap_font)
renderer = fig.canvas.get_renderer()
lead_box = lead.get_window_extent(renderer=renderer)
fig.text(lead_box.x1 / W, fy(926), CAPTION_LINE_1, **cap_font)
fig.text(fx(79), fy(951), CAPTION_LINE_2, **cap_font)

# outer frame
fig.add_artist(Rectangle((fx(11), fy(967)), (1159 - 11) / W, (967 - 12) / H,
                         transform=fig.transFigure, fill=False,
                         edgecolor="#c8c8c8", linewidth=1.2))

fig.savefig("out.png", dpi=100)
